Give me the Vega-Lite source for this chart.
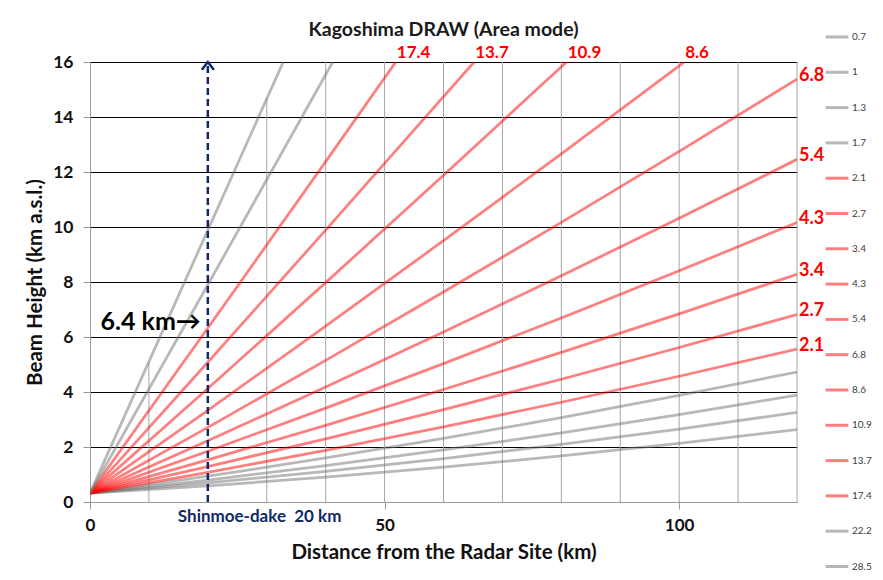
{
  "$schema": "https://vega.github.io/schema/vega-lite/v6.json",
  "width": 707,
  "height": 440,
  "autosize": {"type": "none"},
  "padding": {"left": 90, "top": 62, "right": 86, "bottom": 78},
  "background": "white",
  "title": {
    "text": "Kagoshima DRAW (Area mode)",
    "font": "Lato",
    "fontSize": 19.5,
    "fontWeight": "bold",
    "color": "#1a1a1a",
    "anchor": "middle",
    "offset": -16
  },
  "config": {
    "view": {"stroke": null},
    "font": "Lato"
  },
  "datasets": {
    "beams": [
      {"angle": "0.7", "r": 0, "h": 0.32}, {"angle": "0.7", "r": 20, "h": 0.588}, {"angle": "0.7", "r": 40, "h": 0.903}, {"angle": "0.7", "r": 60, "h": 1.265}, {"angle": "0.7", "r": 80, "h": 1.673}, {"angle": "0.7", "r": 100, "h": 2.13}, {"angle": "0.7", "r": 120, "h": 2.633},
      {"angle": "1", "r": 0, "h": 0.32}, {"angle": "1", "r": 20, "h": 0.693}, {"angle": "1", "r": 40, "h": 1.112}, {"angle": "1", "r": 60, "h": 1.579}, {"angle": "1", "r": 80, "h": 2.092}, {"angle": "1", "r": 100, "h": 2.653}, {"angle": "1", "r": 120, "h": 3.261},
      {"angle": "1.3", "r": 0, "h": 0.32}, {"angle": "1.3", "r": 20, "h": 0.798}, {"angle": "1.3", "r": 40, "h": 1.321}, {"angle": "1.3", "r": 60, "h": 1.893}, {"angle": "1.3", "r": 80, "h": 2.511}, {"angle": "1.3", "r": 100, "h": 3.177}, {"angle": "1.3", "r": 120, "h": 3.889},
      {"angle": "1.7", "r": 0, "h": 0.32}, {"angle": "1.7", "r": 20, "h": 0.937}, {"angle": "1.7", "r": 40, "h": 1.601}, {"angle": "1.7", "r": 60, "h": 2.312}, {"angle": "1.7", "r": 80, "h": 3.069}, {"angle": "1.7", "r": 100, "h": 3.875}, {"angle": "1.7", "r": 120, "h": 4.727},
      {"angle": "2.1", "r": 0, "h": 0.32}, {"angle": "2.1", "r": 20, "h": 1.077}, {"angle": "2.1", "r": 40, "h": 1.88}, {"angle": "2.1", "r": 60, "h": 2.731}, {"angle": "2.1", "r": 80, "h": 3.628}, {"angle": "2.1", "r": 100, "h": 4.572}, {"angle": "2.1", "r": 120, "h": 5.564},
      {"angle": "2.7", "r": 0, "h": 0.32}, {"angle": "2.7", "r": 20, "h": 1.286}, {"angle": "2.7", "r": 40, "h": 2.298}, {"angle": "2.7", "r": 60, "h": 3.358}, {"angle": "2.7", "r": 80, "h": 4.464}, {"angle": "2.7", "r": 100, "h": 5.619}, {"angle": "2.7", "r": 120, "h": 6.82},
      {"angle": "3.4", "r": 0, "h": 0.32}, {"angle": "3.4", "r": 20, "h": 1.53}, {"angle": "3.4", "r": 40, "h": 2.786}, {"angle": "3.4", "r": 60, "h": 4.09}, {"angle": "3.4", "r": 80, "h": 5.44}, {"angle": "3.4", "r": 100, "h": 6.839}, {"angle": "3.4", "r": 120, "h": 8.284},
      {"angle": "4.3", "r": 0, "h": 0.32}, {"angle": "4.3", "r": 20, "h": 1.844}, {"angle": "4.3", "r": 40, "h": 3.413}, {"angle": "4.3", "r": 60, "h": 5.031}, {"angle": "4.3", "r": 80, "h": 6.694}, {"angle": "4.3", "r": 100, "h": 8.406}, {"angle": "4.3", "r": 120, "h": 10.164},
      {"angle": "5.4", "r": 0, "h": 0.32}, {"angle": "5.4", "r": 20, "h": 2.226}, {"angle": "5.4", "r": 40, "h": 4.178}, {"angle": "5.4", "r": 60, "h": 6.178}, {"angle": "5.4", "r": 80, "h": 8.225}, {"angle": "5.4", "r": 100, "h": 10.319}, {"angle": "5.4", "r": 120, "h": 12.46},
      {"angle": "6.8", "r": 0, "h": 0.32}, {"angle": "6.8", "r": 20, "h": 2.712}, {"angle": "6.8", "r": 40, "h": 5.15}, {"angle": "6.8", "r": 60, "h": 7.636}, {"angle": "6.8", "r": 80, "h": 10.168}, {"angle": "6.8", "r": 100, "h": 12.748}, {"angle": "6.8", "r": 120, "h": 15.375},
      {"angle": "8.6", "r": 0, "h": 0.32}, {"angle": "8.6", "r": 20, "h": 3.335}, {"angle": "8.6", "r": 40, "h": 6.395}, {"angle": "8.6", "r": 60, "h": 9.504}, {"angle": "8.6", "r": 80, "h": 12.659}, {"angle": "8.6", "r": 100, "h": 15.862}, {"angle": "8.6", "r": 100.85, "h": 16},
      {"angle": "10.9", "r": 0, "h": 0.32}, {"angle": "10.9", "r": 20, "h": 4.126}, {"angle": "10.9", "r": 40, "h": 7.978}, {"angle": "10.9", "r": 60, "h": 11.878}, {"angle": "10.9", "r": 80, "h": 15.824}, {"angle": "10.9", "r": 80.9, "h": 16},
      {"angle": "13.7", "r": 0, "h": 0.32}, {"angle": "13.7", "r": 20, "h": 5.081}, {"angle": "13.7", "r": 40, "h": 9.888}, {"angle": "13.7", "r": 60, "h": 14.742}, {"angle": "13.7", "r": 65.2, "h": 16},
      {"angle": "17.4", "r": 0, "h": 0.32}, {"angle": "17.4", "r": 20, "h": 6.325}, {"angle": "17.4", "r": 40, "h": 12.376}, {"angle": "17.4", "r": 51.9, "h": 16},
      {"angle": "22.2", "r": 0, "h": 0.32}, {"angle": "22.2", "r": 20, "h": 7.901}, {"angle": "22.2", "r": 41.2, "h": 16},
      {"angle": "28.5", "r": 0, "h": 0.32}, {"angle": "28.5", "r": 20, "h": 9.887}, {"angle": "28.5", "r": 32.8, "h": 16}
    ],
    "gridX": [
      {"x": 10, "bottom": 0, "top": 5.09},
      {"x": 30, "bottom": 0, "top": 14.68},
      {"x": 40, "bottom": 0, "top": 16},
      {"x": 50, "bottom": 0, "top": 16},
      {"x": 60, "bottom": 0, "top": 16},
      {"x": 70, "bottom": 0, "top": 16},
      {"x": 80, "bottom": 0, "top": 16},
      {"x": 90, "bottom": 0, "top": 16},
      {"x": 100, "bottom": 0, "top": 16},
      {"x": 110, "bottom": 0, "top": 16},
      {"x": 120, "bottom": 0, "top": 16}
    ],
    "site": [
      {"name": "Shinmoe-dake", "dist": 20, "ground": 0, "summit": 16, "beamTop": 6.4}
    ]
  },
  "layer": [
    {
      "data": {"name": "gridX"},
      "mark": {"type": "rule", "color": "#a6a6a6", "strokeWidth": 1},
      "encoding": {
        "x": {"field": "x", "type": "quantitative"},
        "y": {"field": "bottom", "type": "quantitative"},
        "y2": {"field": "top"}
      }
    },
    {
      "data": {"name": "beams"},
      "mark": {"type": "line", "strokeWidth": 2.75, "strokeOpacity": 0.5, "clip": true},
      "encoding": {
        "x": {
          "field": "r",
          "type": "quantitative",
          "scale": {"domain": [0, 120], "nice": false, "zero": true},
          "axis": {
            "values": [0, 50, 100],
            "grid": false,
            "title": "Distance from the Radar Site (km)",
            "titleFont": "Lato",
            "titleFontSize": 20.5,
            "titleFontWeight": "bold",
            "titleColor": "#111111",
            "titlePadding": 9,
            "labelFont": "Lato",
            "labelFontSize": 17,
            "labelFontWeight": "bold",
            "labelColor": "#111111",
            "labelPadding": 8,
            "labelFlush": false,
            "tickSize": 7,
            "tickColor": "#999999",
            "domainColor": "#999999"
          }
        },
        "y": {
          "field": "h",
          "type": "quantitative",
          "scale": {"domain": [0, 16], "nice": false},
          "axis": {
            "values": [0, 1, 2, 3, 4, 5, 6, 7, 8, 9, 10, 11, 12, 13, 14, 15, 16],
            "grid": true,
            "gridColor": {"condition": {"test": "datum.value % 2 === 0 && datum.value > 0", "value": "#000000"}, "value": "#c8c8c8"},
            "gridWidth": 1,
            "labelExpr": "datum.value % 2 === 0 ? datum.label : ''",
            "tickOpacity": {"condition": {"test": "datum.value % 2 !== 0", "value": 0}, "value": 1},
            "title": "Beam Height (km a.s.l.)",
            "titleFont": "Lato",
            "titleFontSize": 20.5,
            "titleFontWeight": "bold",
            "titleColor": "#111111",
            "titlePadding": 7,
            "labelFont": "Lato",
            "labelFontSize": 17.5,
            "labelFontWeight": "bold",
            "labelColor": "#111111",
            "labelPadding": 10,
            "tickSize": 7,
            "tickColor": "#999999",
            "domainColor": "#999999"
          }
        },
        "color": {
          "field": "angle",
          "type": "nominal",
          "scale": {
            "domain": ["0.7", "1", "1.3", "1.7", "2.1", "2.7", "3.4", "4.3", "5.4", "6.8", "8.6", "10.9", "13.7", "17.4", "22.2", "28.5"],
            "range": ["#717171", "#717171", "#717171", "#717171", "#ff0000", "#ff0000", "#ff0000", "#ff0000", "#ff0000", "#ff0000", "#ff0000", "#ff0000", "#ff0000", "#ff0000", "#717171", "#717171"]
          },
          "legend": {
            "orient": "none",
            "legendX": 734,
            "legendY": -38,
            "title": null,
            "padding": 0,
            "symbolType": "stroke",
            "symbolSize": 520,
            "symbolStrokeWidth": 3,
            "symbolOpacity": 0.5,
            "labelFont": "Lato",
            "labelFontSize": 10,
            "labelColor": "#404040",
            "labelOffset": 2,
            "rowPadding": 16.3
          }
        },
        "order": {"field": "r", "type": "quantitative"}
      }
    },
    {
      "data": {"name": "beams"},
      "transform": [
        {"filter": "datum.r == 120 && indexof(['2.1','2.7','3.4','4.3','5.4','6.8'], datum.angle) >= 0"}
      ],
      "mark": {"type": "text", "align": "left", "baseline": "middle", "dx": 2, "dy": -3, "font": "Lato", "fontSize": 18, "fontWeight": "bold", "color": "#ff0000"},
      "encoding": {
        "x": {"field": "r", "type": "quantitative"},
        "y": {"field": "h", "type": "quantitative"},
        "text": {"field": "angle"}
      }
    },
    {
      "data": {"name": "beams"},
      "transform": [
        {"filter": "datum.h >= 16 && indexof(['8.6','10.9','13.7','17.4'], datum.angle) >= 0"}
      ],
      "mark": {"type": "text", "align": "left", "baseline": "middle", "dx": 1, "dy": -9, "font": "Lato", "fontSize": 17, "fontWeight": "bold", "color": "#ff0000"},
      "encoding": {
        "x": {"field": "r", "type": "quantitative"},
        "y": {"field": "h", "type": "quantitative"},
        "text": {"field": "angle"}
      }
    },
    {
      "data": {"name": "site"},
      "mark": {"type": "rule", "color": "#102a66", "strokeWidth": 2.5, "strokeDash": [7, 4]},
      "encoding": {
        "x": {"field": "dist", "type": "quantitative"},
        "y": {"field": "ground", "type": "quantitative"},
        "y2": {"field": "summit"}
      }
    },
    {
      "data": {"name": "site"},
      "mark": {"type": "point", "shape": "M-1,1.3L0,0L1,1.3", "filled": false, "size": 144, "strokeWidth": 2.5, "color": "#102a66", "opacity": 1},
      "encoding": {
        "x": {"field": "dist", "type": "quantitative"},
        "y": {"field": "summit", "type": "quantitative"}
      }
    },
    {
      "data": {"name": "site"},
      "transform": [
        {"calculate": "datum.name + '\u00a0\u00a0' + datum.dist + ' km'", "as": "siteLabel"}
      ],
      "mark": {"type": "text", "align": "left", "baseline": "middle", "dx": -30, "dy": 15, "font": "Lato", "fontSize": 17, "fontWeight": "bold", "color": "#102a66"},
      "encoding": {
        "x": {"field": "dist", "type": "quantitative"},
        "y": {"field": "ground", "type": "quantitative"},
        "text": {"field": "siteLabel"}
      }
    },
    {
      "data": {"name": "site"},
      "transform": [
        {"calculate": "format(datum.beamTop, '.1f') + ' km→'", "as": "topLabel"}
      ],
      "mark": {"type": "text", "align": "right", "baseline": "middle", "dx": -7, "dy": -4, "font": "Lato", "fontSize": 25, "fontWeight": "bold", "color": "#000000"},
      "encoding": {
        "x": {"field": "dist", "type": "quantitative"},
        "y": {"field": "beamTop", "type": "quantitative"},
        "text": {"field": "topLabel"}
      }
    }
  ]
}
